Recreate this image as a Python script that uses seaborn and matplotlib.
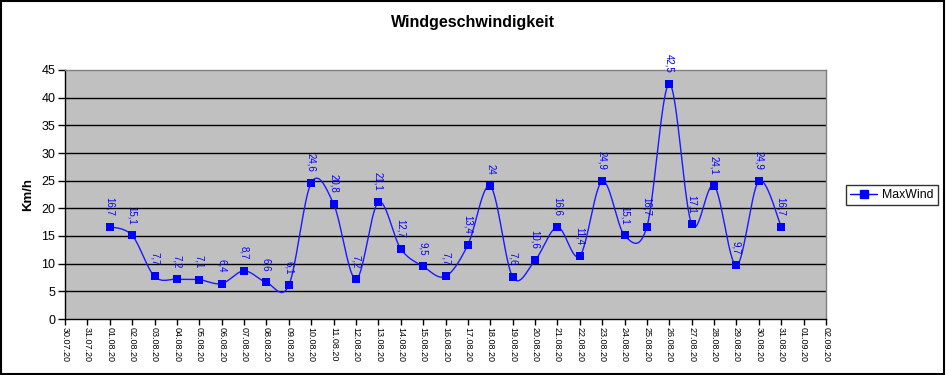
import numpy as np
import pandas as pd
import matplotlib
matplotlib.use("Agg")
import matplotlib.pyplot as plt
from matplotlib.lines import Line2D
from matplotlib.patches import Rectangle
import seaborn as sns

# x axis dates (category axis, 30.07.20 .. 02.09.20)
dates = ["30.07.20", "31.07.20"] + ["%02d.08.20" % d for d in range(1, 32)] + ["01.09.20", "02.09.20"]

# measured days and values
day_labels = ["%02d.08.20" % d for d in range(1, 32)]
max_wind = [16.7, 15.1, 7.7, 7.2, 7.1, 6.4, 8.7, 6.6, 6.1, 24.6,
            20.8, 7.2, 21.1, 12.7, 9.5, 7.7, 13.4, 24, 7.6, 10.6,
            16.6, 11.4, 24.9, 15.1, 16.7, 42.5, 17.1, 24.1, 9.7, 24.9,
            16.7]

df = pd.DataFrame({"date": day_labels, "MaxWind": max_wind})
df["pos"] = df["date"].apply(lambda d: dates.index(d))


def smooth_curve(xs, ys, n=30):
    # excel style smoothed line: bezier segments through every point
    p = np.column_stack([xs, ys]).astype(float)
    p = np.vstack([p[0], p, p[-1]])
    out = []
    t = np.linspace(0, 1, n)[:, None]
    for i in range(1, len(p) - 2):
        p0, p1, p2, p3 = p[i - 1], p[i], p[i + 1], p[i + 2]
        c1 = p1 + (p2 - p0) / 6
        c2 = p2 - (p3 - p1) / 6
        seg = ((1 - t) ** 3) * p1 + 3 * ((1 - t) ** 2) * t * c1 + 3 * (1 - t) * t ** 2 * c2 + t ** 3 * p2
        out.append(seg)
    return np.vstack(out)


sns.set_style("white")
plt.rcParams["font.family"] = ["Liberation Sans", "DejaVu Sans"]
plt.rcParams.update({"text.color": "black", "axes.labelcolor": "black",
                     "xtick.color": "black", "ytick.color": "black"})

fig = plt.figure(figsize=(9.46, 3.75), dpi=100)
ax = fig.add_axes([65 / 946, 1 - 319 / 375, (826 - 65) / 946, (319 - 70) / 375])
ax.set_facecolor("#c0c0c0")

curve = smooth_curve(df["pos"].values, df["MaxWind"].values)
curve_df = pd.DataFrame({"x": curve[:, 0], "y": curve[:, 1]})
sns.lineplot(data=curve_df, x="x", y="y", sort=False, color="#1a1aff", lw=1, ax=ax, zorder=3)
sns.scatterplot(data=df, x="pos", y="MaxWind", marker="s", s=38, color="#0000ff",
                edgecolor="#0000ff", linewidth=0, ax=ax, zorder=4)

for _, row in df.iterrows():
    txt = ("%g" % row["MaxWind"]).replace(".", ",")
    ax.annotate(txt, (row["pos"], row["MaxWind"]), xytext=(0, 8), textcoords="offset points",
                rotation=-90, ha="center", va="bottom", fontsize=7, color="#0000ff", zorder=5)

ax.set_xlim(0, len(dates) - 1)
ax.set_ylim(0, 45)
ax.set_yticks(range(0, 50, 5))
ax.set_xticks(range(len(dates)))
ax.set_xticklabels(dates, rotation=-90, fontsize=6.5)
ax.tick_params(axis="y", labelsize=9, length=5, width=1, direction="out", left=True, pad=2)
ax.tick_params(axis="x", length=4, width=1, direction="out", bottom=True, pad=2)
for lab in ax.get_xticklabels():
    lab.set_va("top")
    lab.set_ha("center")

for v in range(5, 45, 5):
    ax.axhline(v, color="black", lw=1, zorder=1)

ax.spines["left"].set_color("black")
ax.spines["bottom"].set_color("black")
ax.spines["top"].set_color("#808080")
ax.spines["right"].set_color("#808080")
for s in ax.spines.values():
    s.set_linewidth(1)

ax.set_xlabel("")
ax.set_ylabel("Km/h", fontsize=9.5, fontweight="bold", labelpad=5)

fig.text(473 / 946, 1 - 22 / 375, "Windgeschwindigkeit", ha="center", va="center",
         fontsize=11.5, fontweight="bold")

handle = Line2D([], [], color="#0000ff", marker="s", markersize=6, lw=1)
leg = fig.legend([handle], ["MaxWind"], loc="center", bbox_to_anchor=(892 / 946, 1 - 195 / 375),
                 fontsize=8.8, frameon=True, fancybox=False, handlelength=2.2, borderpad=0.35,
                 handletextpad=0.4)
leg.get_frame().set_edgecolor("black")
leg.get_frame().set_linewidth(1)

fig.add_artist(Rectangle((0.001, 0.003), 0.997, 0.995, transform=fig.transFigure,
                         fill=False, edgecolor="black", lw=1.5))

fig.savefig("out.png", dpi=100)
